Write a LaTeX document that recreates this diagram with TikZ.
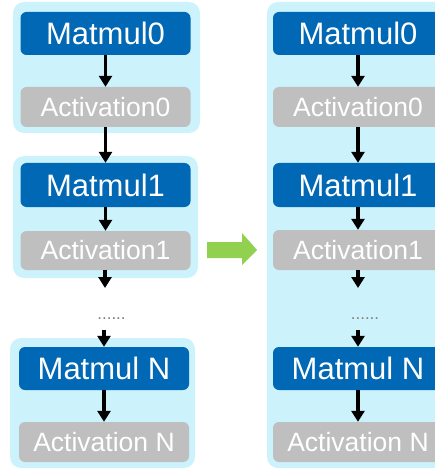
\documentclass[tikz,border=0pt]{standalone}
\usepackage{fontspec}
\setmainfont{Liberation Sans}
\usetikzlibrary{arrows.meta}
\definecolor{opblue}{HTML}{0068B5}
\definecolor{grpfill}{HTML}{CCF2FC}
\definecolor{actgray}{HTML}{BFBFBF}
\definecolor{gogreen}{HTML}{92D050}
\tikzset{
  group/.style={fill=grpfill, draw=none, rounded corners=11pt},
  matbox/.style={fill=opblue, rounded corners=6pt, text=white, font=\fontsize{31}{31}\selectfont,
    minimum width=170pt, minimum height=43pt, inner sep=0pt},
  actbox/.style={fill=actgray, rounded corners=6pt, text=white, font=\fontsize{26.5}{27}\selectfont,
    minimum width=170pt, minimum height=40pt, inner sep=0pt},
  flow/.style={line width=3.5pt, -{Triangle[width=13pt,length=11pt]}},
  dotsnode/.style={text=gray, font=\fontsize{17}{17}\selectfont, inner sep=0pt}
}
\begin{document}
\begin{tikzpicture}[x=1pt,y=-1pt]
\useasboundingbox (0,0) rectangle (435,470);
\clip (0,0) rectangle (435,470);

% left: three separate groups
\fill[group] (13,2) rectangle (200,133);
\fill[group] (13,156) rectangle (198,278);
\fill[group] (10,338) rectangle (195,468);

\node[matbox] (lm0) at (105.5,33.5) {Matmul0};
\node[actbox] (la0) at (105.5,107) {Activation0};
\node[matbox, minimum height=44pt] (lm1) at (105.5,185) {Matmul1};
\node[actbox, minimum height=39pt] (la1) at (105.5,250.5) {Activation1};
\node[dotsnode] (ldots) at (111.5,319) {......};
\node[matbox] (lmn) at (104,368.5) {Matmul N};
\node[actbox] (lan) at (104,442) {Activation N};
\coordinate (lend1) at (105,288);
\coordinate (lstart2) at (104,330);

\draw[flow] (lm0) -- (la0);
\draw[flow] (la0) -- (lm1);
\draw[flow] (lm1) -- (la1);
\draw[flow] (la1.south -| lend1) -- (lend1);
\draw[flow] (lstart2) -- (lmn);
\draw[flow] (lmn) -- (lan);

% transition arrow
\fill[gogreen] (207,242) -- (242,242) -- (242,233) -- (257,250) -- (242,265) -- (242,258) -- (207,258) -- cycle;

% right: one fused group
\fill[group] (267,2) rectangle (449,468);

\node[matbox] (rm0) at (358,33.5) {Matmul0};
\node[actbox] (ra0) at (358,107) {Activation0};
\node[matbox, minimum height=44pt] (rm1) at (358,185) {Matmul1};
\node[actbox] (ra1) at (358,250) {Activation1};
\node[dotsnode] (rdots) at (365,319) {......};
\node[matbox] (rmn) at (358,368.5) {Matmul N};
\node[actbox] (ran) at (358,442) {Activation N};
\coordinate (rend1) at (358,288);
\coordinate (rstart2) at (358,330);

\draw[flow] (rm0) -- (ra0);
\draw[flow] (ra0) -- (rm1);
\draw[flow] (rm1) -- (ra1);
\draw[flow] (ra1) -- (rend1);
\draw[flow] (rstart2) -- (rmn);
\draw[flow] (rmn) -- (ran);
\end{tikzpicture}
\end{document}
